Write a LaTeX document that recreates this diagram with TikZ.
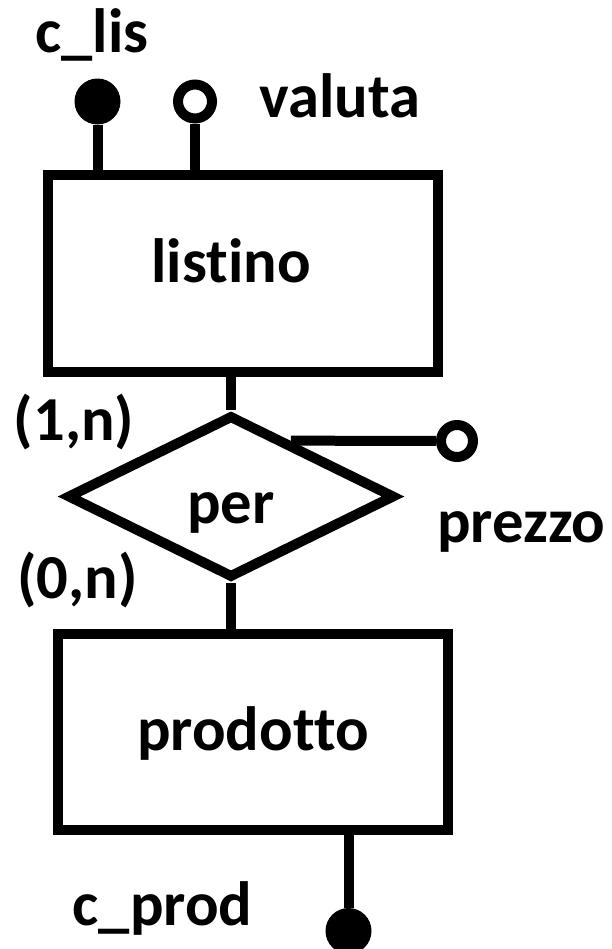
\documentclass[tikz,border=0pt]{standalone}
\usepackage{fontspec}
\setmainfont[Ligatures = NoCommon]{Carlito}
\usetikzlibrary{shapes.geometric}
\tikzset{entity/.style = {draw, rectangle, line width = 0.25cm, inner sep = 0,
                          minimum width = 9.75cm, minimum height = 4.9cm}}
\tikzset{relation/.style = {draw, diamond, line width = 0.25cm, inner sep = 0,
                            minimum width = 8.2cm, minimum height = 4.075cm}}
\tikzset{keyattr/.style = {fill, circle, inner sep = 0, outer sep = 0, minimum size = 1.15cm}}
\tikzset{attr/.style = {draw, circle, line width = 0.25cm, inner sep = 0, minimum size = 0.8cm}}
\tikzset{lbl/.style = {anchor = base, inner sep = 0}}

\begin{document}
\begin{tikzpicture}[font = \fontsize{44.5}{53}\selectfont\bfseries, line width = 0.25cm]
      \useasboundingbox (0, 0) rectangle (15.3, -23.725);

      \node at (6.075, -6.8375) [entity, minimum height = 4.925cm, text height = 0.425cm, text depth = 0] (listino) {\hspace*{-0.6cm}listino};
      \node at (5.775, -12.4125) [relation, text height = 1.325cm, text depth = 0] (per) {per};
      \node at (6.325, -18.3) [entity, text height = 0.9cm, text depth = 0] (prodotto) {prodotto};

      \node at (2.4375, -2.5375) [keyattr] (clis) {};
      \node at (4.875, -2.5375) [attr, minimum size = 0.85cm] (valuta) {};
      \node at (11.425, -11.025) [attr] (prezzo) {};
      \node at (8.7125, -23.275) [keyattr] (cprod) {};

      \node at (2.3, -1.3) [lbl] (clisname) {c\_lis};
      \node at (8.5, -2.925) [lbl] (valutaname) {valuta};
      \node at (13.0375, -13.55) [lbl] (prezzoname) {prezzo};
      \node at (4.0625, -23.125) [lbl] (cprodname) {c\_prod};
      \node at (1.85, -11.0) [lbl] (cardlistino) {(1,n)};
      \node at (1.9375, -14.95) [lbl] (cardprodotto) {(0,n)};

      \draw (clis) -- (clis |- listino.north);
      \draw (valuta) -- (valuta |- listino.north);
      \draw (per.north) -- (per.north |- listino.south);
      \draw (per.south) -- (per.south |- prodotto.north);
      \draw (per.43) -- (prezzo);
      \draw (cprod) -- (cprod |- prodotto.south);
    \end{tikzpicture}
\end{document}
